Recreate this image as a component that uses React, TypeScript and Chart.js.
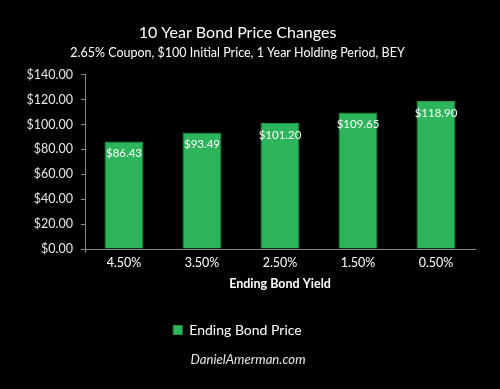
import React, { useEffect, useRef } from "react";
import { Chart, registerables } from "chart.js";

Chart.register(...registerables);

const categories = ["4.50%", "3.50%", "2.50%", "1.50%", "0.50%"];
const prices = [86.43, 93.49, 101.2, 109.65, 118.9];
const yTicksMax = 140;
const yStep = 20;
const titleText = "10 Year Bond Price Changes";
const subtitleText = "2.65% Coupon, $100 Initial Price, 1 Year Holding Period, BEY";
const xTitle = "Ending Bond Yield";
const seriesName = "Ending Bond Price";
const footerText = "DanielAmerman.com";

const FONT = "Lato, 'Open Sans', sans-serif";

export default function App() {
  const ref = useRef<HTMLCanvasElement | null>(null);
  useEffect(() => {
    document.body.style.margin = "0";
    document.body.style.background = "#000";
    const ctx = ref.current!.getContext("2d")!;

    const labelsPlugin = {
      id: "barLabels",
      afterDatasetsDraw(chart: any) {
        const c = chart.ctx;
        const meta = chart.getDatasetMeta(0);
        c.save();
        c.fillStyle = "#ffffff";
        c.font = `11.5px ${FONT}`;
        c.textAlign = "center";
        c.textBaseline = "middle";
        meta.data.forEach((bar: any, i: number) => {
          c.fillText("$" + prices[i].toFixed(2), bar.x, bar.y + 12);
        });
        c.restore();
      },
      afterDraw(chart: any) {
        const c = chart.ctx;
        c.save();
        c.fillStyle = "#e6e6e6";
        c.font = `italic 13.2px ${FONT}`;
        c.textAlign = "center";
        c.textBaseline = "middle";
        c.fillText(footerText, 248, 360);
        c.restore();
      },
    };

    const bgPlugin = {
      id: "bg",
      beforeDraw(chart: any) {
        const c = chart.ctx;
        c.save();
        c.fillStyle = "#000";
        c.fillRect(0, 0, chart.width, chart.height);
        c.restore();
      },
    };

    const chart = new Chart(ctx, {
      type: "bar",
      data: {
        labels: categories,
        datasets: [
          {
            label: seriesName,
            data: prices,
            backgroundColor: "#2cb55a",
            borderColor: "#1f9245",
            borderWidth: 1,
            categoryPercentage: 1,
            barPercentage: 0.5,
          },
        ],
      },
      options: {
        animation: false,
        responsive: false,
        maintainAspectRatio: false,
        layout: { padding: { left: 0, right: 25, top: 0, bottom: 42 } },
        plugins: {
          title: {
            display: true,
            text: titleText,
            color: "#ffffff",
            font: { family: FONT, size: 16, weight: "normal" },
            padding: { top: 23, bottom: 1 },
          },
          subtitle: {
            display: true,
            text: subtitleText,
            color: "#ffffff",
            font: { family: FONT, size: 12.5, weight: "normal" },
            padding: { top: 2, bottom: 14.5 },
          },
          legend: {
            position: "bottom",
            labels: {
              color: "#ffffff",
              font: { family: FONT, size: 14 },
              boxWidth: 9,
              boxHeight: 9,
              padding: 28,
            },
          },
          tooltip: { enabled: false },
        },
        scales: {
          x: {
            afterFit: (s: any) => {
              s.height = 46;
            },
            grid: {
              display: true,
              drawOnChartArea: false,
              drawTicks: true,
              tickLength: 4,
              color: (c: any) =>
                c.index === 0 || c.index === categories.length ? "#888" : "rgba(0,0,0,0)",
            },
            border: { color: "#888", width: 1 },
            ticks: { color: "#ffffff", font: { family: FONT, size: 12.5 }, padding: 2.5 },
            title: {
              display: true,
              text: xTitle,
              color: "#ffffff",
              font: { family: FONT, size: 12.5, weight: "bold" },
              padding: { top: 4, bottom: 4 },
            },
          },
          y: {
            min: 0,
            max: yTicksMax,
            afterFit: (s: any) => {
              s.width = 85;
            },
            grid: {
              display: true,
              drawOnChartArea: false,
              drawTicks: true,
              tickLength: 4,
              color: "#888",
            },
            border: { color: "#888", width: 1 },
            ticks: {
              stepSize: yStep,
              color: "#e6e6e6",
              font: { family: FONT, size: 12.5 },
              padding: 8,
              callback: (v: any) => "$" + Number(v).toFixed(2),
            },
          },
        },
      },
      plugins: [bgPlugin, labelsPlugin],
    });
    return () => chart.destroy();
  }, []);
  return (
    <div style={{ width: 500, height: 389, background: "#000" }}>
      <canvas ref={ref} width={500} height={389} style={{ display: "block" }} />
    </div>
  );
}
